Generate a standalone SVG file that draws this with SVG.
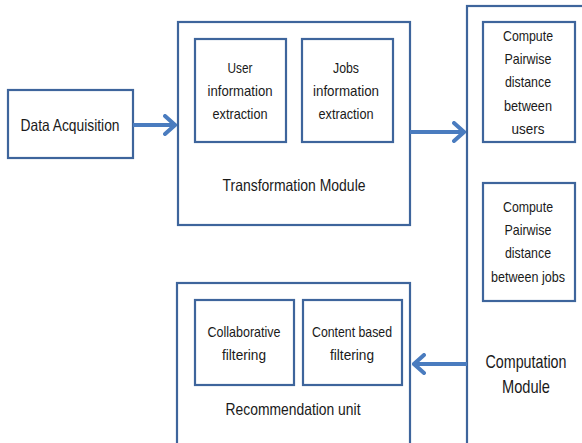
<svg xmlns="http://www.w3.org/2000/svg" width="582" height="443" viewBox="0 0 582 443">
  <defs>
    <style>
      .box { fill: #ffffff; stroke: #3e659c; stroke-width: 2.2; }
      .inner { fill: #ffffff; stroke: #3e659c; stroke-width: 2.2; }
      .lbl { font-family: "Liberation Sans", Arial, sans-serif; fill: #1a1a1a; text-anchor: middle; }
      .s14 { font-size: 15px; }
      .s16 { font-size: 16.5px; }
      .s18 { font-size: 19px; }
      .conn { fill: none; stroke: #4a7cbf; stroke-width: 4; }
    </style>
    <marker id="chev" markerUnits="userSpaceOnUse" viewBox="0 0 14 22" markerWidth="14" markerHeight="22" refX="12" refY="11" orient="auto">
      <polyline points="2,2 12,11 2,20" fill="none" stroke="#4a7cbf" stroke-width="4" stroke-linecap="round" stroke-linejoin="miter"/>
    </marker>
  </defs>
  <rect width="582" height="443" fill="#ffffff"/>

  <!-- Data acquisition -->
  <g id="data-acquisition">
    <rect class="box" x="8" y="90" width="125" height="68"/>
    <text class="lbl s16" x="70" y="131" textLength="99" lengthAdjust="spacingAndGlyphs">Data Acquisition</text>
  </g>

  <!-- Transformation module with its two extractors -->
  <g id="transformation-module">
    <rect class="box" x="178" y="22" width="232" height="203"/>
    <text class="lbl s16" x="294" y="191" textLength="143" lengthAdjust="spacingAndGlyphs">Transformation Module</text>
  </g>
  <g id="user-extraction">
    <rect class="inner" x="195" y="39" width="91" height="103"/>
    <text class="lbl s14" x="240" y="73" textLength="25" lengthAdjust="spacingAndGlyphs">User</text>
    <text class="lbl s14" x="240" y="96" textLength="65" lengthAdjust="spacingAndGlyphs">information</text>
    <text class="lbl s14" x="240" y="119" textLength="55" lengthAdjust="spacingAndGlyphs">extraction</text>
  </g>
  <g id="jobs-extraction">
    <rect class="inner" x="302" y="39" width="91" height="103"/>
    <text class="lbl s14" x="346" y="73" textLength="26" lengthAdjust="spacingAndGlyphs">Jobs</text>
    <text class="lbl s14" x="346" y="96" textLength="66" lengthAdjust="spacingAndGlyphs">information</text>
    <text class="lbl s14" x="346" y="119" textLength="55" lengthAdjust="spacingAndGlyphs">extraction</text>
  </g>

  <!-- Computation module -->
  <g id="computation-module">
    <rect class="box" x="467" y="6" width="130" height="450"/>
    <text class="lbl s18" x="526" y="368" textLength="81" lengthAdjust="spacingAndGlyphs">Computation</text>
    <text class="lbl s18" x="526" y="393" textLength="48" lengthAdjust="spacingAndGlyphs">Module</text>
  </g>
  <g id="user-distance">
    <rect class="inner" x="483" y="22" width="92" height="120"/>
    <text class="lbl s14" x="528" y="41" textLength="50" lengthAdjust="spacingAndGlyphs">Compute</text>
    <text class="lbl s14" x="528" y="64" textLength="47" lengthAdjust="spacingAndGlyphs">Pairwise</text>
    <text class="lbl s14" x="528" y="87" textLength="46" lengthAdjust="spacingAndGlyphs">distance</text>
    <text class="lbl s14" x="528" y="111" textLength="48" lengthAdjust="spacingAndGlyphs">between</text>
    <text class="lbl s14" x="528" y="134" textLength="33" lengthAdjust="spacingAndGlyphs">users</text>
  </g>
  <g id="job-distance">
    <rect class="inner" x="483" y="183" width="92" height="118"/>
    <text class="lbl s14" x="528" y="212" textLength="50" lengthAdjust="spacingAndGlyphs">Compute</text>
    <text class="lbl s14" x="528" y="235" textLength="47" lengthAdjust="spacingAndGlyphs">Pairwise</text>
    <text class="lbl s14" x="528" y="258" textLength="46" lengthAdjust="spacingAndGlyphs">distance</text>
    <text class="lbl s14" x="528" y="282" textLength="74" lengthAdjust="spacingAndGlyphs">between jobs</text>
  </g>

  <!-- Recommendation unit -->
  <g id="recommendation-unit">
    <rect class="box" x="177" y="283" width="233" height="170"/>
    <text class="lbl s16" x="293" y="415" textLength="135" lengthAdjust="spacingAndGlyphs">Recommendation unit</text>
  </g>
  <g id="collaborative-filtering">
    <rect class="inner" x="195" y="300" width="99" height="85"/>
    <text class="lbl s14" x="244" y="337" textLength="73" lengthAdjust="spacingAndGlyphs">Collaborative</text>
    <text class="lbl s14" x="244" y="360" textLength="44" lengthAdjust="spacingAndGlyphs">filtering</text>
  </g>
  <g id="content-filtering">
    <rect class="inner" x="303" y="300" width="99" height="85"/>
    <text class="lbl s14" x="352" y="337" textLength="80" lengthAdjust="spacingAndGlyphs">Content based</text>
    <text class="lbl s14" x="352" y="360" textLength="44" lengthAdjust="spacingAndGlyphs">filtering</text>
  </g>

  <!-- Connectors -->
  <g id="connectors">
    <line class="conn" x1="133" y1="125" x2="175" y2="125" marker-end="url(#chev)"/>
    <line class="conn" x1="410" y1="132" x2="464" y2="132" marker-end="url(#chev)"/>
    <line class="conn" x1="467" y1="364" x2="414" y2="364" marker-end="url(#chev)"/>
  </g>
</svg>
